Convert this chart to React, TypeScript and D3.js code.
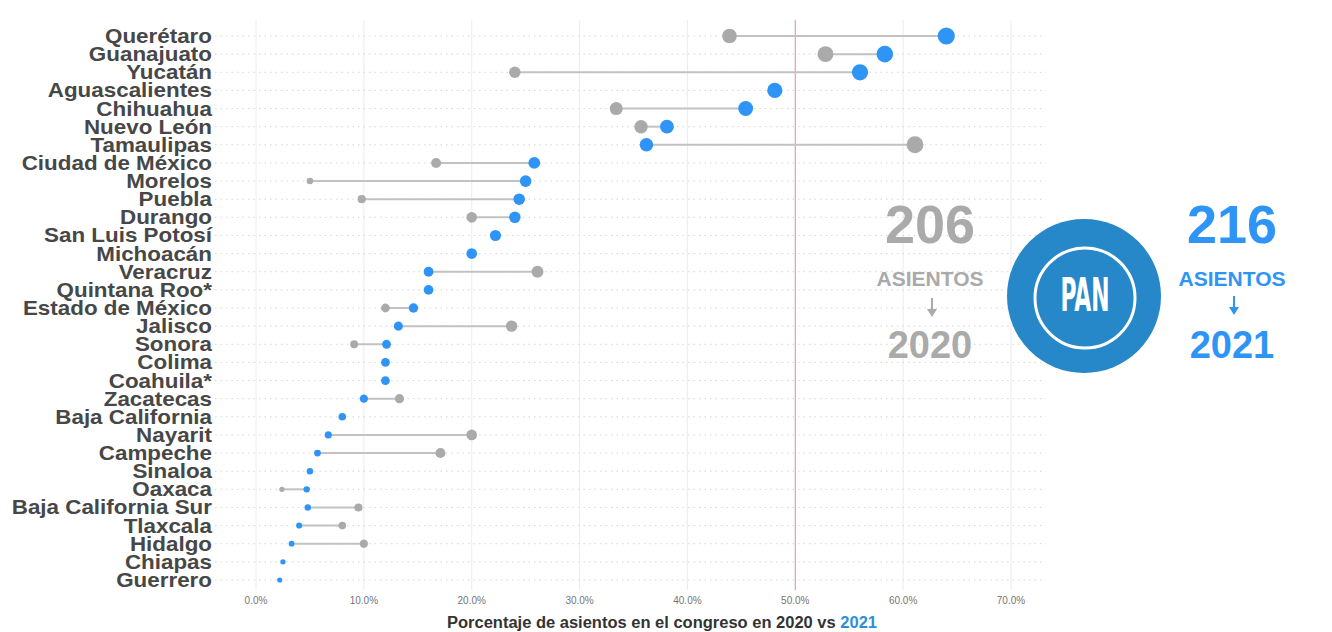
import React from 'react';
import * as d3 from 'd3';

const states = [
  'Querétaro', 'Guanajuato', 'Yucatán', 'Aguascalientes', 'Chihuahua', 'Nuevo León',
  'Tamaulipas', 'Ciudad de México', 'Morelos', 'Puebla', 'Durango', 'San Luis Potosí',
  'Michoacán', 'Veracruz', 'Quintana Roo*', 'Estado de México', 'Jalisco', 'Sonora',
  'Colima', 'Coahuila*', 'Zacatecas', 'Baja California', 'Nayarit', 'Campeche',
  'Sinaloa', 'Oaxaca', 'Baja California Sur', 'Tlaxcala', 'Hidalgo', 'Chiapas', 'Guerrero',
];

// share of seats, % (null where no 2020 dot is visible)
const seats2020: (number | null)[] = [
  43.9, 52.8, 24.0, null, 33.4, 35.7,
  61.1, 16.7, 5.0, 9.8, 20.0, null,
  null, 26.1, null, 12.0, 23.7, 9.1,
  null, null, 13.3, null, 20.0, 17.1,
  null, 2.4, 9.5, 8.0, 10.0, null, null,
];

const seats2021 = [
  64.0, 58.3, 56.0, 48.1, 45.4, 38.1,
  36.2, 25.8, 25.0, 24.4, 24.0, 22.2,
  20.0, 16.0, 16.0, 14.6, 13.2, 12.1,
  12.0, 12.0, 10.0, 8.0, 6.7, 5.7,
  5.0, 4.7, 4.8, 4.0, 3.3, 2.5, 2.2,
];

const xTicks = [0, 10, 20, 30, 40, 50, 60, 70];
const totals = { y2020: '206', y2021: '216' };

const GRAY = '#aaaaaa';
const BLUE = '#2e95f6';
const FONT = '"Liberation Sans", Arial, Helvetica, sans-serif';

export default function App() {
  const width = 1332;
  const height = 632;

  const x = d3.scaleLinear().domain([0, 70]).range([256, 1011]);
  const y = d3.scalePoint<string>().domain(states).range([36, 580]);
  const r = d3.scaleSqrt().domain([0, 64]).range([1.2, 8.6]);

  const plotLeft = 215;
  const plotRight = 1046;
  const plotTop = 20;
  const plotBottom = 590;

  return (
    <svg
      width={width}
      height={height}
      style={{ position: 'absolute', left: 0, top: 0, background: '#fff' }}
      fontFamily={FONT}
    >
      {/* vertical grid */}
      {xTicks.map((t) => (
        <line key={'vg' + t} x1={x(t)} x2={x(t)} y1={plotTop} y2={plotBottom}
          stroke="#ececec" strokeWidth={1} />
      ))}
      {/* horizontal dotted grid */}
      {states.map((s) => (
        <line key={'hg' + s} x1={plotLeft} x2={plotRight} y1={y(s)} y2={y(s)}
          stroke="#d6d6d6" strokeWidth={1} strokeDasharray="1.5 4" />
      ))}
      {/* 50% reference */}
      <line x1={x(50)} x2={x(50)} y1={plotTop} y2={plotBottom} stroke="#e79595" strokeWidth={1} />

      {/* segments */}
      {states.map((s, i) => {
        const a = seats2020[i];
        if (a == null) return null;
        return (
          <line key={'seg' + s} x1={x(a)} x2={x(seats2021[i])} y1={y(s)} y2={y(s)}
            stroke="#c2c2c2" strokeWidth={2} />
        );
      })}
      {/* 2020 dots */}
      {states.map((s, i) => {
        const a = seats2020[i];
        if (a == null) return null;
        return <circle key={'a' + s} cx={x(a)} cy={y(s)} r={r(a)} fill={GRAY} />;
      })}
      {/* 2021 dots */}
      {states.map((s, i) => (
        <circle key={'b' + s} cx={x(seats2021[i])} cy={y(s)} r={r(seats2021[i])} fill={BLUE} />
      ))}

      {/* state labels */}
      <g transform="translate(212,0) scale(1.12,1)">
        {states.map((s) => (
          <text key={'l' + s} x={0} y={(y(s) ?? 0) + 7} textAnchor="end"
            fontSize={20} fontWeight="bold" fill="#474747">{s}</text>
        ))}
      </g>

      {/* x tick labels */}
      {xTicks.map((t) => (
        <text key={'xt' + t} x={x(t)} y={604} textAnchor="middle" fontSize={10} fill="#757575">
          {d3.format('.1f')(t) + '%'}
        </text>
      ))}
      <text x={662} y={628} textAnchor="middle" fontSize={16} fontWeight="bold" fill="#333"
        textLength={430} lengthAdjust="spacingAndGlyphs">
        Porcentaje de asientos en el congreso en 2020 vs <tspan fill="#2d8fd8">2021</tspan>
      </text>

      {/* 2020 summary */}
      <g fill={GRAY} fontWeight="bold" textAnchor="middle">
        <text x={930} y={243} fontSize={54}>{totals.y2020}</text>
        <text x={930} y={286} fontSize={21}>ASIENTOS</text>
        <text x={930} y={358} fontSize={38}>2020</text>
      </g>
      <line x1={932} x2={932} y1={298} y2={312} stroke={GRAY} strokeWidth={2} />
      <path d="M927,309 L932,317 L937,309 Z" fill={GRAY} />

      {/* PAN badge */}
      <circle cx={1084} cy={296} r={77} fill="#2688c9" />
      <circle cx={1085} cy={298} r={50} fill="none" stroke="#fff" strokeWidth={3} />
      <text x={1085} y={311} textAnchor="middle" fontSize={46} fill="#fff" fontWeight="bold"
        fontFamily='"Liberation Sans Narrow", "DejaVu Sans Condensed", sans-serif'
        textLength={49} lengthAdjust="spacingAndGlyphs">PAN</text>

      {/* 2021 summary */}
      <g fill={BLUE} fontWeight="bold" textAnchor="middle">
        <text x={1232} y={243} fontSize={54}>{totals.y2021}</text>
        <text x={1232} y={286} fontSize={21}>ASIENTOS</text>
        <text x={1232} y={358} fontSize={38}>2021</text>
      </g>
      <line x1={1234} x2={1234} y1={296} y2={310} stroke={BLUE} strokeWidth={2} />
      <path d="M1229,307 L1234,315 L1239,307 Z" fill={BLUE} />
    </svg>
  );
}
